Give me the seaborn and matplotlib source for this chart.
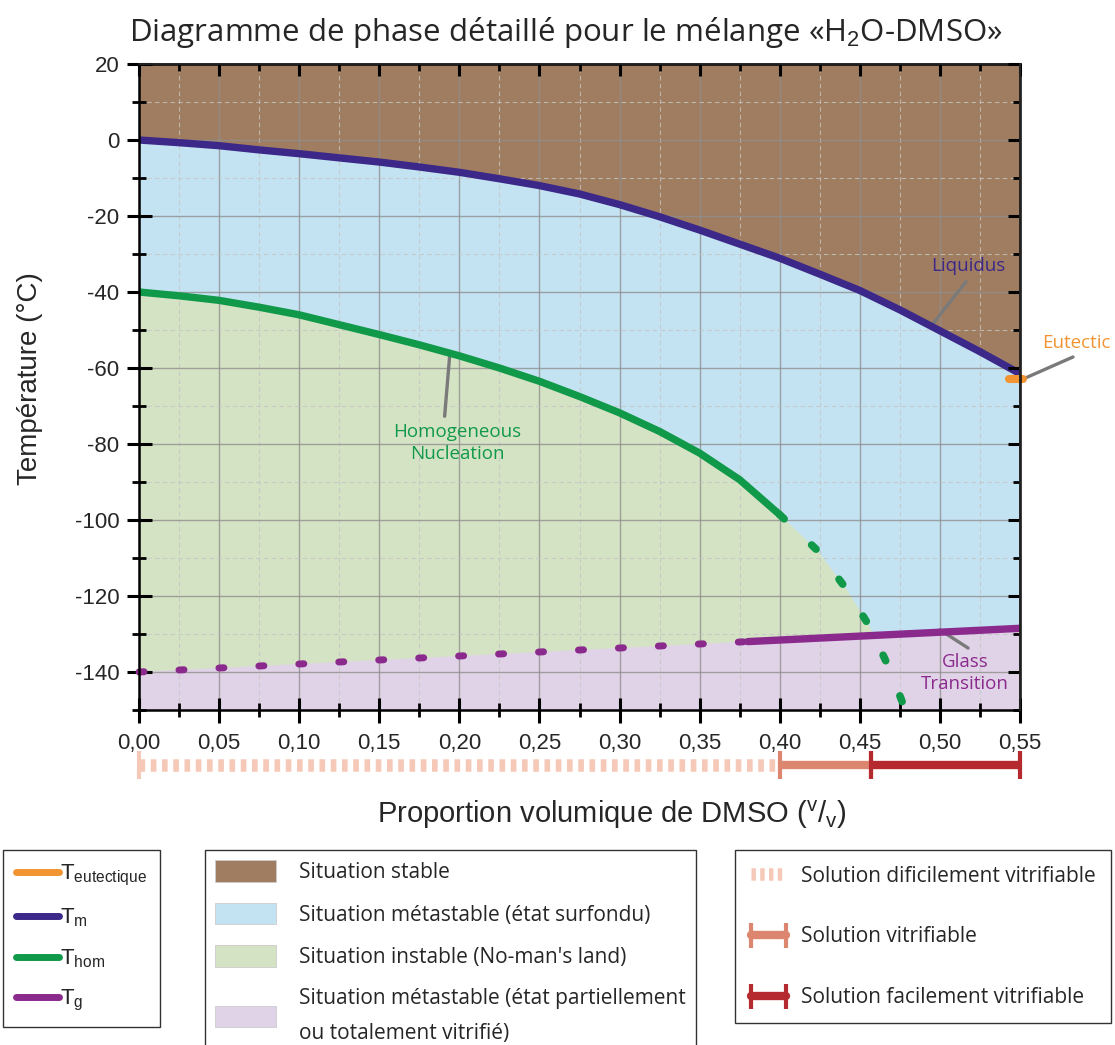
import numpy as np
import pandas as pd
import matplotlib
matplotlib.use('Agg')
import matplotlib.pyplot as plt
import seaborn as sns
from matplotlib.lines import Line2D
from matplotlib.patches import Patch
from matplotlib.legend_handler import HandlerLine2D
from matplotlib.ticker import MultipleLocator, FuncFormatter

# liquidus T_m
tm_x = [0.0, 0.025, 0.05, 0.075, 0.10, 0.125, 0.15, 0.175, 0.20, 0.225, 0.25, 0.275,
        0.30, 0.325, 0.35, 0.375, 0.40, 0.425, 0.45, 0.475, 0.50, 0.525, 0.55]
tm_t = [0.0, -0.7, -1.5, -2.6, -3.6, -4.7, -5.8, -7.1, -8.5, -10.2, -12.0, -14.2,
        -17.0, -20.2, -23.7, -27.4, -31.1, -35.3, -39.6, -44.7, -50.2, -55.7, -61.5]

# homogeneous nucleation T_hom (measured / extrapolated)
thom_x = [0.0, 0.025, 0.05, 0.075, 0.10, 0.125, 0.15, 0.175, 0.20, 0.225, 0.25, 0.275,
          0.30, 0.325, 0.35, 0.375, 0.40]
thom_t = [-40.0, -41.0, -42.2, -44.0, -46.0, -48.6, -51.2, -53.9, -56.8, -60.0, -63.5, -67.5,
          -71.8, -76.7, -82.4, -89.4, -98.6]
thom_ext_x = [0.40, 0.4235, 0.442, 0.4566, 0.468, 0.478]
thom_ext_t = [-98.6, -108.0, -118.4, -128.4, -138.7, -149.5]

# glass transition T_g
tg_dot_x = [0.0, 0.38]
tg_dot_t = [-140.0, -132.0]
tg_x = [0.38, 0.55]
tg_t = [-132.0, -128.5]

# eutectic
eut_x = [0.543, 0.552]
eut_t = [-63.0, -63.0]

# vitrification ranges under the x axis
vit_start = [0.0, 0.40, 0.457]
vit_end = [0.40, 0.457, 0.55]
vit_labels = ['Solution dificilement vitrifiable', 'Solution vitrifiable', 'Solution facilement vitrifiable']

c_brown = '#a07d60'
c_blue = '#c4e3f2'
c_green = '#d5e3c5'
c_purple = '#e1d3e7'
c_tm = '#3b2888'
c_thom = '#11994a'
c_tg = '#8b2a8d'
c_eut = '#f29432'
c_vit = ['#f5c8b8', '#dc8670', '#b52a2f']
c_lead = '#7a7a7a'

sns.set_theme(style='white')
plt.rcParams['font.family'] = ['Liberation Sans', 'DejaVu Sans']
plt.rcParams['axes.unicode_minus'] = False
plt.rcParams['mathtext.fontset'] = 'custom'
plt.rcParams['mathtext.rm'] = 'Liberation Sans'
myriad = ['Open Sans', 'DejaVu Sans']

W, H = 1115, 1045
fig = plt.figure(figsize=(W / 100, H / 100), dpi=100)
L, R, T, B = 139, 1020, 64, 710
ax = fig.add_axes([L / W, 1 - B / H, (R - L) / W, (B - T) / H])

ax.set_xlim(0, 0.55)
ax.set_ylim(-150, 20)
ax.set_facecolor(c_blue)

# regions
ax.fill(tm_x + [0.55, 0.0], tm_t + [20, 20], color=c_brown, lw=0, zorder=0.5)
ax.fill(thom_x + thom_ext_x[1:] + [0.0], thom_t + thom_ext_t[1:] + [-150], color=c_green, lw=0, zorder=0.6)
ax.fill(tg_dot_x + tg_x[1:] + [0.55, 0.0], tg_dot_t + tg_t[1:] + [-150, -150], color=c_purple, lw=0, zorder=0.7)

# grid
ax.xaxis.set_major_locator(MultipleLocator(0.05))
ax.xaxis.set_minor_locator(MultipleLocator(0.025))
ax.yaxis.set_major_locator(MultipleLocator(20))
ax.yaxis.set_minor_locator(MultipleLocator(10))
ax.grid(which='major', color='#8f8f8f', lw=1.0, alpha=0.8)
ax.grid(which='minor', color='#c4c4c4', lw=0.8, ls=(0, (4, 3)), alpha=0.8)
ax.set_axisbelow(False)

# curves
lw = 5.3
sns.lineplot(x=tm_x, y=tm_t, ax=ax, color=c_tm, lw=lw, sort=False, estimator=None,
             solid_capstyle='round', zorder=4)
sns.lineplot(x=thom_x, y=thom_t, ax=ax, color=c_thom, lw=lw, sort=False, estimator=None,
             solid_capstyle='round', zorder=4)
ax.plot(thom_ext_x, thom_ext_t, color=c_thom, lw=5.5, ls=(0, (0.8, 4.96)),
        dash_capstyle='round', zorder=4, clip_on=False)
ax.plot(tg_dot_x, tg_dot_t, color=c_tg, lw=5, ls=(0, (0.73, 5.03)),
        dash_capstyle='round', zorder=4, clip_on=False)
sns.lineplot(x=tg_x, y=tg_t, ax=ax, color=c_tg, lw=lw, sort=False, estimator=None,
             solid_capstyle='round', zorder=4)
ax.plot(eut_x, eut_t, color=c_eut, lw=lw + 0.5, solid_capstyle='round', zorder=5, clip_on=False)

# labels with leader lines
lead = dict(arrowstyle='-', color=c_lead, lw=2.4, shrinkA=0, shrinkB=0)
ax.annotate('', xy=(0.4955, -48.4), xytext=(0.5163, -37.3), arrowprops=lead, annotation_clip=False)
ax.annotate('', xy=(0.5519, -62.9), xytext=(0.5831, -57.1), arrowprops=lead, annotation_clip=False)
ax.annotate('', xy=(0.194, -56.5), xytext=(0.1908, -72.7), arrowprops=lead, annotation_clip=False)
ax.annotate('', xy=(0.500, -128.9), xytext=(0.5176, -133.7), arrowprops=lead, annotation_clip=False)
txt = dict(fontsize=13.5, family=myriad, ha='center', va='center', clip_on=False, linespacing=1.3)
ax.text(0.5176, -33.1, 'Liquidus', color=c_tm, **txt)
ax.text(0.585, -53.4, 'Eutectic', color=c_eut, **txt)
ax.text(0.1985, -79.8, 'Homogeneous\nNucleation', color=c_thom, **txt)
ax.text(0.5157, -140.3, 'Glass\nTransition', color=c_tg, **txt)

# ticks and spines
ax.xaxis.set_major_formatter(FuncFormatter(lambda v, p: f'{v:.2f}'.replace('.', ',')))
ax.yaxis.set_major_formatter(FuncFormatter(lambda v, p: f'{v:.0f}'))
ax.tick_params(which='major', direction='inout', length=18, width=2.2, color='black',
               labelsize=16, top=False, right=False, bottom=True, left=True)
ax.tick_params(axis='x', which='major', pad=7.5)
ax.tick_params(axis='y', which='major', pad=5)
ax.tick_params(which='minor', direction='inout', length=9.5, width=2.0, color='black',
               top=False, right=False, bottom=True, left=True)
for s in ax.spines.values():
    s.set_color('black')
    s.set_linewidth(1.8)
    s.set_zorder(6)

secx = ax.secondary_xaxis('top')
secx.xaxis.set_major_locator(MultipleLocator(0.05))
secx.xaxis.set_minor_locator(MultipleLocator(0.025))
secx.tick_params(which='major', direction='in', length=8.6, width=2.2, labeltop=False, color='black')
secx.tick_params(which='minor', direction='in', length=5, width=2.0, color='black')
secx.set_zorder(10)
secy = ax.secondary_yaxis('right')
secy.yaxis.set_major_locator(MultipleLocator(20))
secy.yaxis.set_minor_locator(MultipleLocator(10))
secy.tick_params(which='major', direction='in', length=8.6, width=2.2, labelright=False, color='black')
secy.tick_params(which='minor', direction='in', length=5, width=2.0, color='black')
secy.set_zorder(10)

# titles
fig.text(566 / W, 1 - 33 / H, 'Diagramme de phase détaillé pour le mélange «H$_2$O-DMSO»',
         ha='center', va='center', fontsize=22.5, family=myriad)
fig.text(30 / W, 1 - 379 / H, 'Température (°C)', rotation=90, ha='center', va='center', fontsize=20)
fig.text(612 / W, 1 - 815 / H, 'Proportion volumique de DMSO ($^{\\mathregular{v}}$/$_{\\mathregular{v}}$)',
         ha='center', va='center', fontsize=21)

# vitrification bar
bax = fig.add_axes([L / W, 1 - 776 / H, (R - L) / W, 22 / H])
bax.set_xlim(0, 0.55)
bax.set_ylim(-1, 1)
bax.axis('off')
bax.plot([vit_start[0], vit_end[0]], [0, 0], color=c_vit[0], lw=9, ls=(0, (0.45, 0.45)),
         solid_capstyle='butt', clip_on=False)
bax.plot([vit_start[0]], [0], marker='|', ms=20, mew=3, color=c_vit[0], clip_on=False)
for i in (1, 2):
    bax.plot([vit_start[i], vit_end[i]], [0, 0], color=c_vit[i], lw=6, solid_capstyle='butt',
             clip_on=False)
    bax.plot([vit_start[i], vit_end[i]], [0, 0], ls='none', marker='|', ms=20, mew=3,
             color=c_vit[i], clip_on=False)

# legends
frame_kw = dict(frameon=True, fancybox=False, framealpha=1, edgecolor='#333333',
                borderaxespad=0, loc='upper left')
h1 = [Line2D([], [], color=c, lw=5, solid_capstyle='round') for c in (c_eut, c_tm, c_thom, c_tg)]
l1 = ['T$_{\\mathregular{eutectique}}$', 'T$_{\\mathregular{m}}$', 'T$_{\\mathregular{hom}}$', 'T$_{\\mathregular{g}}$']
leg1 = fig.legend(h1, l1, bbox_to_anchor=(3 / W, 1 - 850 / H), fontsize=16,
                  handlelength=1.9, handletextpad=0.05, labelspacing=0.82, borderpad=0.6,
                  **frame_kw)
leg1.get_frame().set_linewidth(1)

h2 = [Patch(facecolor=c, edgecolor='#cccccc', lw=0.6) for c in (c_brown, c_blue, c_green, c_purple)]
l2 = ['Situation stable', 'Situation métastable (état surfondu)', "Situation instable (No-man's land)",
      'Situation métastable (état partiellement\nou totalement vitrifié)']
leg2 = fig.legend(h2, l2, bbox_to_anchor=(205 / W, 1 - 850 / H),
                  prop={'family': myriad, 'size': 15},
                  handlelength=2.9, handleheight=1.2, handletextpad=1.1, labelspacing=0.95,
                  borderpad=0.5, **frame_kw)
leg2.get_frame().set_linewidth(1)
for t in leg2.get_texts():
    t.set_linespacing(1.85)

h3 = [Line2D([], [], color=c_vit[0], lw=9, ls=(0, (0.35, 0.35))),
      Line2D([], [], color=c_vit[1], lw=6, marker='|', ms=18, mew=3),
      Line2D([], [], color=c_vit[2], lw=6, marker='|', ms=18, mew=3)]
leg3 = fig.legend(h3, vit_labels, bbox_to_anchor=(735 / W, 1 - 850 / H),
                  prop={'family': myriad, 'size': 15}, numpoints=2,
                  handler_map={Line2D: HandlerLine2D(marker_pad=0)},
                  handlelength=1.7, handletextpad=0.7, labelspacing=1.9, borderpad=0.75,
                  **frame_kw)
leg3.get_frame().set_linewidth(1)

fig.savefig('out.png', dpi=100)
